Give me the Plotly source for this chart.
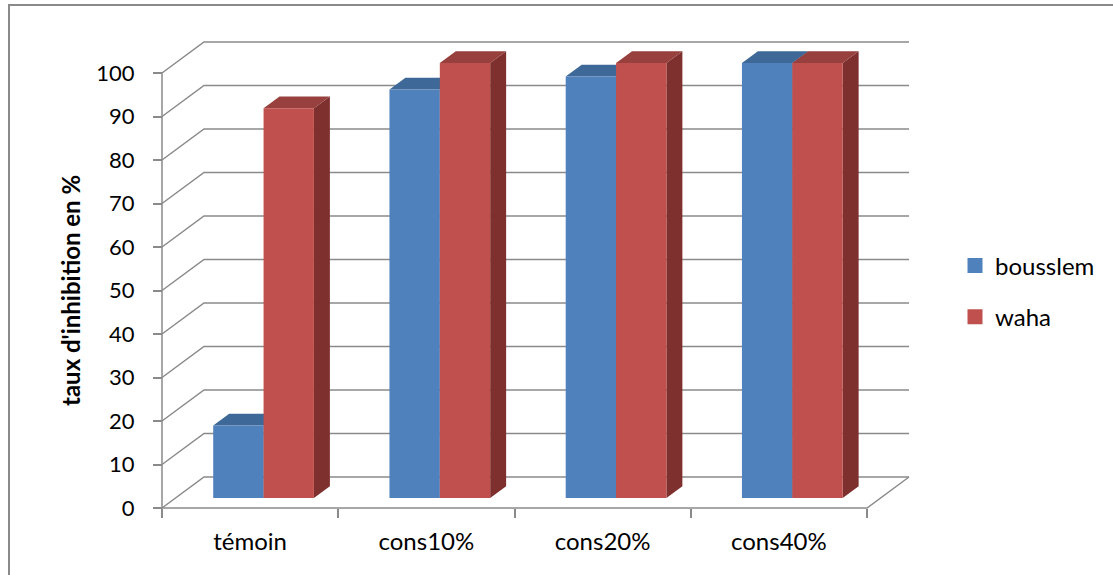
import plotly.graph_objects as go

# ---- data -------------------------------------------------------------
categories = ["témoin", "cons10%", "cons20%", "cons40%"]
bousslem = [16.7, 93.9, 96.9, 100]
waha = [89.6, 100, 100, 100]
y_ticks = list(range(0, 101, 10))

# ---- geometry / style ---------------------------------------------------
W, H = 1113, 575
PX_CAT = 176.25          # pixels per category slot
PX_VAL = 4.35            # pixels per value unit
X0_PX, Y0_PX = 162, 508  # pixel position of the front-left floor corner

DX = 42 / PX_CAT         # depth offset of the back wall (x, data units)
DY = 31 / PX_VAL         # depth offset of the back wall (y, data units)
F_FRONT, F_BACK = 0.32, 0.70   # depth slice occupied by the columns
BW = 1 / 3.5                   # column width (gap width 150 %)

x_range = [-0.5 - X0_PX / PX_CAT, -0.5 + (W - X0_PX) / PX_CAT]
y_range = [-(H - Y0_PX) / PX_VAL, Y0_PX / PX_VAL]

FONT = "Lato, 'Open Sans', sans-serif"
GRID = "#8a8a8a"
BLUE, BLUE_TOP, BLUE_SIDE = "#4F81BD", "#3E6898", "#385F8C"
RED, RED_TOP, RED_SIDE = "#C0504D", "#97403D", "#7E302E"

n = len(categories)
x_left, x_right = -0.5, n - 0.5

fig = go.Figure()


def line_trace(xs, ys):
    return go.Scatter(x=xs, y=ys, mode="lines", hoverinfo="skip",
                      line=dict(color=GRID, width=1.5), showlegend=False)


# back-wall gridlines, each running from the front axis into the depth
gx, gy = [], []
for v in y_ticks:
    gx += [x_left, x_left + DX, x_right + DX, None]
    gy += [v, v + DY, v + DY, None]
fig.add_trace(line_trace(gx, gy))

# floor front edge + right edge, and the vertical value axis
fig.add_trace(line_trace([x_left, x_right, x_right + DX], [0, 0, DY]))
fig.add_trace(line_trace([x_left, x_left], [0, y_ticks[-1]]))

# column faces (front, top, side) built from the values
base = F_FRONT * DY
shift = F_FRONT * DX
d = F_BACK - F_FRONT


def faces(values, offset):
    fx, fy, tx, ty, sx, sy = [], [], [], [], [], []
    for i, v in enumerate(values):
        x0 = i + shift + offset
        x1 = x0 + BW
        yt = base + v
        fx += [x0, x1, x1, x0, x0, None]
        fy += [base, base, yt, yt, base, None]
        tx += [x0, x1, x1 + d * DX, x0 + d * DX, x0, None]
        ty += [yt, yt, yt + d * DY, yt + d * DY, yt, None]
        sx += [x1, x1, x1 + d * DX, x1 + d * DX, x1, None]
        sy += [base, yt, yt + d * DY, base + d * DY, base, None]
    return (fx, fy), (tx, ty), (sx, sy)


def poly(xy, color):
    return go.Scatter(x=xy[0], y=xy[1], mode="lines", fill="toself",
                      fillcolor=color, line=dict(width=0, color=color),
                      hoverinfo="skip", showlegend=False)


for vals, off, cols in [(bousslem, -BW, (BLUE, BLUE_TOP, BLUE_SIDE)),
                        (waha, 0.0, (RED, RED_TOP, RED_SIDE))]:
    front, top, side = faces(vals, off)
    fig.add_trace(poly(side, cols[2]))
    fig.add_trace(poly(top, cols[1]))
    fig.add_trace(poly(front, cols[0]))

# legend keys
for name, color, grp in [("bousslem", BLUE, "a"), ("waha", RED, "b")]:
    fig.add_trace(go.Scatter(x=[None], y=[None], mode="markers", name=name,
                             marker=dict(symbol="square", size=15, color=color),
                             legendgroup=grp, showlegend=True))

# outer chart border
fig.add_shape(type="rect", xref="paper", yref="paper",
              x0=9 / W, x1=(W + 20) / W, y0=-0.1, y1=1 - 5 / H,
              line=dict(color="#8a8a8a", width=2), layer="below")

# value-axis title
fig.add_annotation(text="<b>taux d'inhibition en %</b>", xref="paper", yref="paper",
                   x=70 / W, y=1 - 291 / H, xanchor="center", yanchor="middle",
                   textangle=-90, showarrow=False,
                   font=dict(family=FONT, size=24, color="#000000"))

fig.update_layout(
    width=W, height=H, autosize=False,
    margin=dict(l=0, r=0, t=0, b=0),
    paper_bgcolor="white", plot_bgcolor="white",
    font=dict(family=FONT, size=22, color="#000000"),
    xaxis=dict(range=x_range, domain=[0, 1], anchor="free",
               position=(H - Y0_PX) / H,
               tickvals=list(range(n)), ticktext=categories,
               tickfont=dict(size=24),
               ticks="", showgrid=False, zeroline=False, showline=False,
               ticklabelstandoff=17,
               minor=dict(tickvals=[i - 0.5 for i in range(n + 1)],
                          ticks="outside", ticklen=9, tickwidth=1.5,
                          tickcolor=GRID, showgrid=False)),
    yaxis=dict(range=y_range, domain=[0, 1], anchor="free",
               position=X0_PX / W,
               tickvals=y_ticks, ticks="outside", ticklen=9, tickwidth=1.5,
               tickcolor=GRID, showgrid=False, zeroline=False, showline=False,
               ticklabelstandoff=14),
    legend=dict(x=955 / W, y=1 - 291.5 / H, xanchor="left", yanchor="middle",
                traceorder="grouped", tracegroupgap=17,
                itemsizing="trace",
                font=dict(family=FONT, size=24, color="#000000"),
                bgcolor="rgba(0,0,0,0)"),
)

fig.write_html("out.html")
